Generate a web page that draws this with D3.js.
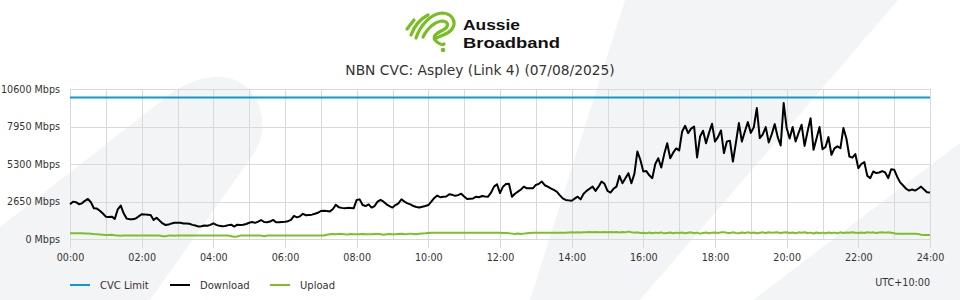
<!DOCTYPE html>
<html>
<head>
<meta charset="utf-8">
<script src="https://cdn.jsdelivr.net/npm/d3@7"></script>
<style>
  html, body { margin: 0; padding: 0; background: #ffffff; }
  svg { display: block; }
  text { font-family: "DejaVu Sans", sans-serif; fill: #333333; }
</style>
</head>
<body>
<svg id="chart" width="960" height="300"></svg>
<script>
// ---------------- DATA ----------------
const chartTitle = "NBN CVC: Aspley (Link 4) (07/08/2025)";
const yTicks = [0, 2650, 5300, 7950, 10600];
const yMax = 10600;
const xTickHours = [0, 2, 4, 6, 8, 10, 12, 14, 16, 18, 20, 22, 24];
const intervalMinutes = 5;
const cvcLimit = 10000;
const seriesNames = ["CVC Limit", "Download", "Upload"];
const timezoneLabel = "UTC+10:00";
const brandLines = ["Aussie", "Broadband"];

// Download (Mbps), 5-minute samples from 00:00 to 24:00
const download = [
  2460, 2640, 2600, 2460, 2520, 2700, 2830, 2600, 2170, 2150, 2000, 1800,
  1580, 1560, 1580, 1420, 2100, 2360, 1800, 1440, 1400, 1400, 1450, 1600,
  1750, 1740, 1720, 1700, 1350, 1500, 1300, 1100, 990, 1020, 1100, 1150,
  1140, 1150, 1100, 1100, 1080, 1000, 950, 880, 900, 960, 940, 1000,
  1110, 1000, 930, 900, 920, 980, 1010, 880, 1010, 990, 1010, 1060,
  1150, 1200, 1140, 1230, 1340, 1200, 1180, 1230, 1350, 1180, 1180, 1200,
  1220, 1260, 1350, 1630, 1530, 1600, 1780, 1680, 1700, 1720, 1780, 1850,
  1980, 1990, 1980, 1950, 2100, 2410, 2250, 2200, 2170, 2200, 2190, 2170,
  2760, 2800, 2400, 2330, 2450, 2220, 2330, 2640, 2760, 2640, 2450, 2320,
  2220, 2400, 2520, 2810, 2640, 2520, 2450, 2330, 2260, 2220, 2280, 2330,
  2400, 2640, 2900, 3070, 2950, 2980, 3000, 3160, 3120, 3050, 3100, 3200,
  3000, 2830, 2850, 2870, 2990, 2950, 3040, 3000, 2990, 3280, 3700, 3870,
  3240, 3700, 3890, 3900, 2990, 3200, 3350, 3500, 3700, 3580, 3580, 3580,
  3820, 3900, 4060, 3800, 3700, 3580, 3470, 3350, 3100, 2870, 2760, 2730,
  2700, 2850, 2990, 2800, 3200, 3400, 3550, 3700, 3400, 3700, 4060, 3900,
  3400, 3280, 3550, 3700, 4460, 3940, 4300, 4650, 3940, 4600, 6180, 5600,
  4770, 4800, 4500, 4300, 5300, 5710, 5050, 6000, 6770, 5710, 6100, 6400,
  6250, 7600, 8000, 7480, 7800, 7950, 5760, 7240, 7650, 6770, 7500, 8140,
  6890, 7200, 7670, 6070, 6900, 6940, 5470, 6800, 8190, 6890, 7600, 8260,
  7500, 7900, 9250, 7130, 7400, 7910, 6820, 7400, 8120, 7200, 6610, 9610,
  7840, 7100, 7910, 6890, 7500, 8070, 6580, 7600, 8540, 6300, 7100, 7910,
  6350, 6500, 7200, 5950, 6400, 6550, 6420, 7840, 7100, 5830, 5750, 6000,
  5000, 5300, 5440, 4460, 4300, 4770, 4660, 4700, 4800, 4700, 4300, 4930,
  4900, 4400, 4000, 3780, 3550, 3420, 3500, 3420, 3550, 3700, 3500, 3300,
  3280
];

// Upload (Mbps), 5-minute samples from 00:00 to 24:00
const upload = [
  400, 400, 405, 400, 400, 395, 390, 370, 350, 340, 320, 300,
  280, 290, 300, 270, 250, 230, 240, 250, 250, 250, 250, 250,
  250, 250, 250, 250, 250, 250, 250, 200, 190, 240, 240, 230,
  240, 240, 240, 240, 240, 240, 240, 240, 240, 240, 240, 240,
  240, 240, 240, 240, 240, 240, 200, 160, 180, 240, 240, 240,
  240, 240, 240, 240, 240, 190, 240, 240, 240, 240, 240, 240,
  240, 240, 240, 240, 240, 240, 240, 240, 240, 240, 240, 240,
  240, 250, 300, 340, 350, 340, 350, 360, 330, 320, 350, 340,
  340, 330, 350, 340, 340, 330, 350, 360, 340, 300, 340, 350,
  340, 330, 350, 370, 330, 350, 380, 360, 340, 370, 390, 400,
  420, 440, 450, 450, 450, 450, 450, 450, 450, 450, 450, 450,
  450, 450, 450, 450, 450, 450, 450, 450, 450, 450, 450, 450,
  440, 430, 420, 400, 380, 360, 390, 350, 380, 400, 420, 440,
  440, 450, 440, 450, 450, 440, 450, 450, 440, 450, 450, 460,
  470, 460, 480, 460, 480, 470, 490, 470, 500, 480, 470, 500,
  480, 500, 470, 490, 460, 500, 470, 520, 480, 450, 470, 420,
  440, 400, 460, 410, 450, 420, 470, 400, 430, 460, 410, 450,
  420, 460, 400, 440, 470, 410, 450, 380, 430, 460, 410, 450,
  460, 420, 470, 480, 440, 420, 470, 430, 410, 460, 420, 470,
  430, 460, 410, 440, 470, 420, 480, 450, 460, 470, 420, 460,
  480, 430, 460, 410, 470, 440, 480, 420, 450, 390, 460, 410,
  450, 400, 460, 420, 450, 410, 470, 430, 460, 440, 470, 450,
  420, 460, 430, 480, 450, 470, 420, 460, 480, 450, 470, 440,
  400, 370, 370, 370, 370, 370, 370, 370, 360, 300, 290, 290,
  290
];

// ---------------- DRAW ----------------
const svg = d3.select("#chart");
const W = 960, H = 300;
const colors = { cvc: "#0a9ad9", down: "#000000", up: "#7ac126" };
const bgGray = "#f3f4f6";

// background decoration
const bg = svg.append("g");
bg.append("rect").attr("width", W).attr("height", H).attr("fill", "#ffffff");
bg.append("path").attr("fill", bgGray)
  .attr("d", "M0,227 L160,102 C186,78 228,66 250,90 C266,110 265,134 255,152 L150,300 L0,300 Z");
bg.append("path").attr("fill", bgGray)
  .attr("d", "M530,300 L625,0 L898,0 L640,300 Z");
bg.append("path").attr("fill", bgGray)
  .attr("d", "M753,300 L960,143 L960,300 Z");

// logo
const logo = svg.append("g");
const green = "#78be20";
const logoPaths = [
  "M407,29 L414,20",
  "M411,35 C414,27 420,19 428,15",
  "M416,38 C420,26 430,14 442,13 C452,13 457,22 452,29 C448,35 438,36 435,39",
  "M423,37 C428,27 436,21 443,21 C449,22 449,27 443,30 C437,33 430,37 437,42 C441,45 443,45 444,44"
];
logo.selectAll("path.logo").data(logoPaths).join("path")
  .attr("d", d => d).attr("fill", "none").attr("stroke", green)
  .attr("stroke-width", 3.2).attr("stroke-linecap", "round").attr("stroke-linejoin", "round");
logo.append("circle").attr("cx", 443).attr("cy", 50).attr("r", 2.3).attr("fill", green);
const brandY = [30.2, 47.7], brandW = [57, 97];
logo.selectAll("text.brand").data(brandLines).join("text")
  .attr("class", "brand").text(d => d).attr("x", 463).attr("y", (d, i) => brandY[i])
  .style("font-family", "'Liberation Sans', Arial, sans-serif").style("font-weight", 700)
  .style("font-size", "15.5px").style("fill", "#111")
  .attr("textLength", (d, i) => brandW[i]).attr("lengthAdjust", "spacingAndGlyphs");

// title
svg.append("text").text(chartTitle).attr("x", 480).attr("y", 75)
  .attr("text-anchor", "middle").style("font-size", "13.8px");

// scales
const x = d3.scaleLinear().domain([0, 24]).range([70, 930]);
const y = d3.scaleLinear().domain([0, yMax]).range([239, 89]);
const tOf = i => i * intervalMinutes / 60;

// grid
const grid = svg.append("g").attr("stroke", "#d9d9d9").attr("stroke-width", 1).attr("shape-rendering", "crispEdges");
grid.selectAll("line.h").data(yTicks).join("line")
  .attr("x1", x(0)).attr("x2", x(24))
  .attr("y1", d => Math.round(y(d)) + 0.5).attr("y2", d => Math.round(y(d)) + 0.5);
grid.selectAll("line.v").data(d3.range(0, 25)).join("line")
  .attr("x1", d => Math.round(x(d)) + 0.5).attr("x2", d => Math.round(x(d)) + 0.5)
  .attr("y1", y(yMax)).attr("y2", d => xTickHours.includes(d) ? 248 : y(0));

// y axis labels
const yAxis = d3.axisLeft(y).tickValues(yTicks).tickSize(0).tickPadding(0)
  .tickFormat(d => d + " Mbps");
const yg = svg.append("g").attr("transform", "translate(60,0)").call(yAxis);
yg.select(".domain").remove();
yg.selectAll("text").style("font-size", "9.6px").style("font-family", "'DejaVu Sans', sans-serif")
  .attr("fill", "#333").attr("dy", "0.35em");

// x axis labels
const xAxis = d3.axisBottom(x).tickValues(xTickHours).tickSize(0).tickPadding(0)
  .tickFormat(d => String(d).padStart(2, "0") + ":00");
const xg = svg.append("g").attr("transform", "translate(0,254)").call(xAxis);
xg.select(".domain").remove();
xg.selectAll("text").style("font-size", "9.6px").style("font-family", "'DejaVu Sans', sans-serif")
  .attr("fill", "#333").attr("dy", "0.71em");

// lines
const line = d3.line().x((d, i) => x(tOf(i))).y(d => y(d));
svg.append("path").datum(upload).attr("d", line).attr("fill", "none")
  .attr("stroke", colors.up).attr("stroke-width", 2).attr("stroke-linejoin", "round");
svg.append("path").datum(download).attr("d", line).attr("fill", "none")
  .attr("stroke", colors.down).attr("stroke-width", 2).attr("stroke-linejoin", "round");
svg.append("line").attr("x1", x(0)).attr("x2", x(24)).attr("y1", y(cvcLimit)).attr("y2", y(cvcLimit))
  .attr("stroke", colors.cvc).attr("stroke-width", 2);

// legend
const legendColors = [colors.cvc, colors.down, colors.up];
const legendX = [70, 170, 270];
const lg = svg.append("g");
const items = lg.selectAll("g").data(seriesNames).join("g")
  .attr("transform", (d, i) => `translate(${legendX[i]},285)`);
items.append("line").attr("x1", 0).attr("x2", 20).attr("y1", 0).attr("y2", 0)
  .attr("stroke", (d, i) => legendColors[i]).attr("stroke-width", 2);
items.append("text").text(d => d).attr("x", 30).attr("dy", "0.35em").style("font-size", "10px");

svg.append("text").text(timezoneLabel).attr("x", 930).attr("y", 283).attr("dy", "0.35em")
  .attr("text-anchor", "end").style("font-size", "9.6px");
</script>
</body>
</html>
